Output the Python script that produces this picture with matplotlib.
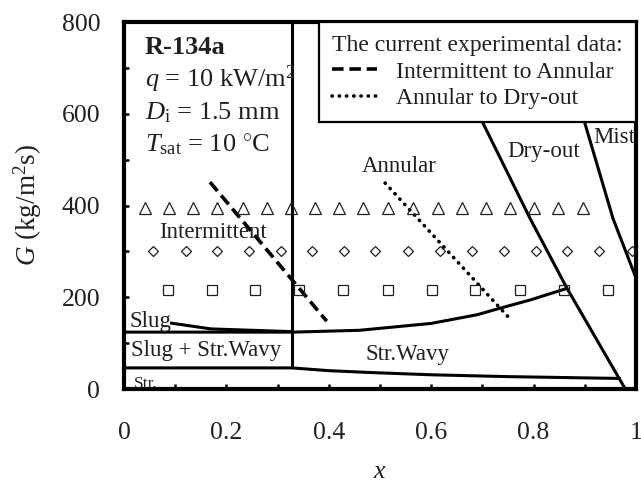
import matplotlib
matplotlib.use("Agg")
import matplotlib.pyplot as plt
from matplotlib.lines import Line2D

plt.rcParams['font.family'] = ['Liberation Serif', 'DejaVu Serif']
plt.rcParams['mathtext.fontset'] = 'custom'
plt.rcParams['mathtext.rm'] = 'Liberation Serif'
plt.rcParams['mathtext.it'] = 'Liberation Serif:italic'
plt.rcParams['mathtext.bf'] = 'Liberation Serif:bold'

INK = '#231f20'

# flow pattern map boundaries: vapour quality x vs mass flux G (kg/m2s)
slug_x = [0.09, 0.17, 0.33]
slug_g = [144, 131, 125]

int_lower_x = [0.0, 0.33, 0.46, 0.60, 0.69, 0.734, 0.793, 0.867]
int_lower_g = [124, 124, 128, 143, 162, 176, 194, 220]

str_top_x = [0.0, 0.328, 0.40, 0.48, 0.60, 0.75, 0.97]
str_top_g = [46, 46, 40, 36, 31, 27, 23]

int_right_x = [0.328, 0.328]
int_right_g = [46, 800]

dryout_x = [0.606, 0.701, 0.793, 0.865, 0.979]
dryout_g = [800, 580, 372, 220, 0]

mist_x = [0.84, 0.900, 0.955, 1.0]
mist_g = [800, 580, 372, 242]

# transitions observed in the present experiments
int_ann_x = [0.168, 0.396]
int_ann_g = [451, 148]
ann_dry_x = [0.51, 0.758]
ann_dry_g = [449, 148]

# test points
tri_x = [0.041, 0.088, 0.135, 0.182, 0.232, 0.279, 0.326, 0.373, 0.420, 0.467,
         0.516, 0.564, 0.613, 0.660, 0.707, 0.754, 0.801, 0.848, 0.896]
tri_g = 395
dia_x = [0.057, 0.121, 0.182, 0.244, 0.307, 0.367, 0.430, 0.490, 0.555, 0.617,
         0.680, 0.742, 0.805, 0.865, 0.928, 0.992]
dia_g = 300
sq_x = [0.086, 0.172, 0.256, 0.342, 0.428, 0.516, 0.602, 0.686, 0.773, 0.859, 0.945]
sq_g = 216

fig = plt.figure(figsize=(6.41, 4.83), dpi=100)
ax = fig.add_axes([0.1934, 0.1946, 0.7988, 0.7598])

lw = 2.2
for bx, bg in [(slug_x, slug_g), (int_lower_x, int_lower_g), (str_top_x, str_top_g),
               (int_right_x, int_right_g), (dryout_x, dryout_g), (mist_x, mist_g)]:
    ax.plot(bx, bg, color='black', lw=lw, solid_capstyle='butt', zorder=3)

dashed = (0, (3.2, 1.6))
dotted = (0, (0.1, 1.9))
ax.plot(int_ann_x, int_ann_g, color='black', lw=2.6, linestyle=dashed, zorder=3)
ax.plot(ann_dry_x, ann_dry_g, color='black', lw=2.6, linestyle=dotted,
        dash_capstyle='round', zorder=3)

mk = dict(linestyle='none', markerfacecolor='none', markeredgecolor=INK,
          markeredgewidth=0.9, zorder=4)
ax.plot(tri_x, [tri_g] * len(tri_x), marker='^', markersize=8, **mk)
ax.plot(dia_x, [dia_g] * len(dia_x), marker='D', markersize=5.6, **mk)
ax.plot(sq_x, [sq_g] * len(sq_x), marker='s', markersize=7.2, **mk)

# operating conditions
ax.text(0.041, 730, 'R-134a', fontsize=19, fontweight='bold', color=INK)
ax.text(0.041, 658, r'$q$ = 10 kW/m$^{2}$', fontsize=19, color=INK)
ax.text(0.041, 588, r'$D_{\mathrm{i}}$ = 1.5 mm', fontsize=19, color=INK)
ax.text(0.041, 516, r'$T_{\mathrm{sat}}$ = 10 $^{\circ}$C', fontsize=19, color=INK)

# regime names
rs = 16.5
ax.text(0.068, 329, 'Intermittent', fontsize=rs, color=INK)
ax.text(0.010, 135, 'Slug', fontsize=rs, color=INK)
ax.text(0.014, 72, 'Slug + Str.Wavy', fontsize=rs, color=INK)
ax.text(0.020, 2, 'Str.', fontsize=12.5, color=INK, clip_on=True)
ax.text(0.471, 63, 'Str.Wavy', fontsize=rs, color=INK)
ax.text(0.465, 473, 'Annular', fontsize=rs, color=INK)
ax.text(0.748, 505, 'Dry-out', fontsize=rs, color=INK)
ax.text(0.916, 536, 'Mist', fontsize=rs, color=INK, clip_on=True)

handles = [Line2D([], [], color='black', lw=2.6, linestyle=dashed),
           Line2D([], [], color='black', lw=2.6, linestyle=dotted,
                  dash_capstyle='round')]
leg = ax.legend(handles, ['Intermittent to Annular', 'Annular to Dry-out'],
                title='The current experimental data:', alignment='left',
                loc='upper right', borderaxespad=0, fontsize=17,
                title_fontsize=17, handlelength=1.9, handletextpad=0.8,
                borderpad=0.55, labelspacing=0.22, fancybox=False, framealpha=1)
leg.get_frame().set_edgecolor('black')
leg.get_frame().set_linewidth(1.6)
for t in leg.get_texts():
    t.set_color(INK)
leg.get_title().set_color(INK)

ax.set_xlim(0, 1)
ax.set_ylim(0, 800)
ax.set_xticks([0, 0.2, 0.4, 0.6, 0.8, 1.0])
ax.set_xticklabels(['0', '0.2', '0.4', '0.6', '0.8', '1'])
ax.set_xticks([0.1, 0.3, 0.5, 0.7, 0.9], minor=True)
ax.set_yticks([0, 200, 400, 600, 800])
ax.set_yticks([100, 300, 500, 700], minor=True)
ax.tick_params(which='both', direction='in', length=3.5, width=1.8,
               labelsize=18.5, labelcolor=INK)
ax.tick_params(axis='x', which='both', pad=24)
ax.tick_params(axis='y', which='both', pad=17)

for s in ax.spines.values():
    s.set_linewidth(3)
    s.set_color('black')

ax.set_xlabel(r'$x$', fontsize=18.5, color=INK, labelpad=12)
ax.set_ylabel(r'$G$ (kg/m$^{2}$s)', fontsize=19.5, color=INK)
ax.yaxis.set_label_coords(-0.157, 0.5)

fig.savefig('out.png', dpi=100)
